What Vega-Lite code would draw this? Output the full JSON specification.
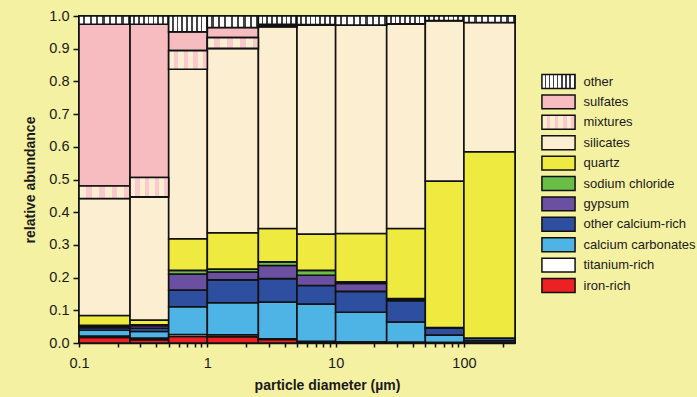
{
  "$schema": "https://vega.github.io/schema/vega-lite/v6.json",
  "autosize": "none",
  "padding": {"left": 79, "top": 16, "right": 182, "bottom": 54},
  "width": 436,
  "height": 327,
  "background": "#f5f1a3",
  "config": {
    "font": "Liberation Sans",
    "view": {"stroke": "#111111", "strokeWidth": 1.6},
    "axis": {
      "domainColor": "#111111",
      "domainWidth": 1.5,
      "tickColor": "#111111",
      "tickWidth": 1.5,
      "labelColor": "#1a1a1a",
      "labelFont": "Liberation Sans",
      "labelFontSize": 14.5,
      "titleColor": "#1a1a1a",
      "titleFont": "Liberation Sans",
      "titleFontSize": 14,
      "titleFontWeight": "bold",
      "grid": false
    }
  },
  "data": {
    "values": [
      {"lo": 0.1, "hi": 0.25, "mineral": "iron-rich", "abundance": 0.017},
      {"lo": 0.1, "hi": 0.25, "mineral": "titanium-rich", "abundance": 0.004},
      {"lo": 0.1, "hi": 0.25, "mineral": "calcium carbonates", "abundance": 0.018},
      {"lo": 0.1, "hi": 0.25, "mineral": "other calcium-rich", "abundance": 0.008},
      {"lo": 0.1, "hi": 0.25, "mineral": "gypsum", "abundance": 0.004},
      {"lo": 0.1, "hi": 0.25, "mineral": "sodium chloride", "abundance": 0.003},
      {"lo": 0.1, "hi": 0.25, "mineral": "quartz", "abundance": 0.03},
      {"lo": 0.1, "hi": 0.25, "mineral": "silicates", "abundance": 0.358},
      {"lo": 0.1, "hi": 0.25, "mineral": "mixtures", "abundance": 0.038},
      {"lo": 0.1, "hi": 0.25, "mineral": "sulfates", "abundance": 0.495},
      {"lo": 0.1, "hi": 0.25, "mineral": "other", "abundance": 0.025},

      {"lo": 0.25, "hi": 0.5, "mineral": "iron-rich", "abundance": 0.01},
      {"lo": 0.25, "hi": 0.5, "mineral": "titanium-rich", "abundance": 0.005},
      {"lo": 0.25, "hi": 0.5, "mineral": "calcium carbonates", "abundance": 0.02},
      {"lo": 0.25, "hi": 0.5, "mineral": "other calcium-rich", "abundance": 0.01},
      {"lo": 0.25, "hi": 0.5, "mineral": "gypsum", "abundance": 0.008},
      {"lo": 0.25, "hi": 0.5, "mineral": "sodium chloride", "abundance": 0.003},
      {"lo": 0.25, "hi": 0.5, "mineral": "quartz", "abundance": 0.014},
      {"lo": 0.25, "hi": 0.5, "mineral": "silicates", "abundance": 0.377},
      {"lo": 0.25, "hi": 0.5, "mineral": "mixtures", "abundance": 0.059},
      {"lo": 0.25, "hi": 0.5, "mineral": "sulfates", "abundance": 0.469},
      {"lo": 0.25, "hi": 0.5, "mineral": "other", "abundance": 0.025},

      {"lo": 0.5, "hi": 1, "mineral": "iron-rich", "abundance": 0.02},
      {"lo": 0.5, "hi": 1, "mineral": "titanium-rich", "abundance": 0.006},
      {"lo": 0.5, "hi": 1, "mineral": "calcium carbonates", "abundance": 0.085},
      {"lo": 0.5, "hi": 1, "mineral": "other calcium-rich", "abundance": 0.051},
      {"lo": 0.5, "hi": 1, "mineral": "gypsum", "abundance": 0.049},
      {"lo": 0.5, "hi": 1, "mineral": "sodium chloride", "abundance": 0.011},
      {"lo": 0.5, "hi": 1, "mineral": "quartz", "abundance": 0.097},
      {"lo": 0.5, "hi": 1, "mineral": "silicates", "abundance": 0.518},
      {"lo": 0.5, "hi": 1, "mineral": "mixtures", "abundance": 0.057},
      {"lo": 0.5, "hi": 1, "mineral": "sulfates", "abundance": 0.058},
      {"lo": 0.5, "hi": 1, "mineral": "other", "abundance": 0.048},

      {"lo": 1, "hi": 2.5, "mineral": "iron-rich", "abundance": 0.019},
      {"lo": 1, "hi": 2.5, "mineral": "titanium-rich", "abundance": 0.006},
      {"lo": 1, "hi": 2.5, "mineral": "calcium carbonates", "abundance": 0.098},
      {"lo": 1, "hi": 2.5, "mineral": "other calcium-rich", "abundance": 0.07},
      {"lo": 1, "hi": 2.5, "mineral": "gypsum", "abundance": 0.024},
      {"lo": 1, "hi": 2.5, "mineral": "sodium chloride", "abundance": 0.009},
      {"lo": 1, "hi": 2.5, "mineral": "quartz", "abundance": 0.111},
      {"lo": 1, "hi": 2.5, "mineral": "silicates", "abundance": 0.564},
      {"lo": 1, "hi": 2.5, "mineral": "mixtures", "abundance": 0.033},
      {"lo": 1, "hi": 2.5, "mineral": "sulfates", "abundance": 0.031},
      {"lo": 1, "hi": 2.5, "mineral": "other", "abundance": 0.035},

      {"lo": 2.5, "hi": 5, "mineral": "iron-rich", "abundance": 0.011},
      {"lo": 2.5, "hi": 5, "mineral": "titanium-rich", "abundance": 0.002},
      {"lo": 2.5, "hi": 5, "mineral": "calcium carbonates", "abundance": 0.112},
      {"lo": 2.5, "hi": 5, "mineral": "other calcium-rich", "abundance": 0.072},
      {"lo": 2.5, "hi": 5, "mineral": "gypsum", "abundance": 0.04},
      {"lo": 2.5, "hi": 5, "mineral": "sodium chloride", "abundance": 0.011},
      {"lo": 2.5, "hi": 5, "mineral": "quartz", "abundance": 0.102},
      {"lo": 2.5, "hi": 5, "mineral": "silicates", "abundance": 0.617},
      {"lo": 2.5, "hi": 5, "mineral": "mixtures", "abundance": 0.003},
      {"lo": 2.5, "hi": 5, "mineral": "sulfates", "abundance": 0.005},
      {"lo": 2.5, "hi": 5, "mineral": "other", "abundance": 0.025},

      {"lo": 5, "hi": 10, "mineral": "iron-rich", "abundance": 0.003},
      {"lo": 5, "hi": 10, "mineral": "titanium-rich", "abundance": 0.002},
      {"lo": 5, "hi": 10, "mineral": "calcium carbonates", "abundance": 0.114},
      {"lo": 5, "hi": 10, "mineral": "other calcium-rich", "abundance": 0.057},
      {"lo": 5, "hi": 10, "mineral": "gypsum", "abundance": 0.031},
      {"lo": 5, "hi": 10, "mineral": "sodium chloride", "abundance": 0.015},
      {"lo": 5, "hi": 10, "mineral": "quartz", "abundance": 0.111},
      {"lo": 5, "hi": 10, "mineral": "silicates", "abundance": 0.639},
      {"lo": 5, "hi": 10, "mineral": "sulfates", "abundance": 0.002},
      {"lo": 5, "hi": 10, "mineral": "other", "abundance": 0.026},

      {"lo": 10, "hi": 25, "mineral": "iron-rich", "abundance": 0.002},
      {"lo": 10, "hi": 25, "mineral": "titanium-rich", "abundance": 0.002},
      {"lo": 10, "hi": 25, "mineral": "calcium carbonates", "abundance": 0.09},
      {"lo": 10, "hi": 25, "mineral": "other calcium-rich", "abundance": 0.064},
      {"lo": 10, "hi": 25, "mineral": "gypsum", "abundance": 0.024},
      {"lo": 10, "hi": 25, "mineral": "sodium chloride", "abundance": 0.005},
      {"lo": 10, "hi": 25, "mineral": "quartz", "abundance": 0.148},
      {"lo": 10, "hi": 25, "mineral": "silicates", "abundance": 0.637},
      {"lo": 10, "hi": 25, "mineral": "other", "abundance": 0.028},

      {"lo": 25, "hi": 50, "mineral": "iron-rich", "abundance": 0.001},
      {"lo": 25, "hi": 50, "mineral": "titanium-rich", "abundance": 0.002},
      {"lo": 25, "hi": 50, "mineral": "calcium carbonates", "abundance": 0.061},
      {"lo": 25, "hi": 50, "mineral": "other calcium-rich", "abundance": 0.065},
      {"lo": 25, "hi": 50, "mineral": "gypsum", "abundance": 0.003},
      {"lo": 25, "hi": 50, "mineral": "sodium chloride", "abundance": 0.004},
      {"lo": 25, "hi": 50, "mineral": "quartz", "abundance": 0.214},
      {"lo": 25, "hi": 50, "mineral": "silicates", "abundance": 0.626},
      {"lo": 25, "hi": 50, "mineral": "other", "abundance": 0.024},

      {"lo": 50, "hi": 100, "mineral": "iron-rich", "abundance": 0.001},
      {"lo": 50, "hi": 100, "mineral": "titanium-rich", "abundance": 0.001},
      {"lo": 50, "hi": 100, "mineral": "calcium carbonates", "abundance": 0.022},
      {"lo": 50, "hi": 100, "mineral": "other calcium-rich", "abundance": 0.021},
      {"lo": 50, "hi": 100, "mineral": "gypsum", "abundance": 0.002},
      {"lo": 50, "hi": 100, "mineral": "quartz", "abundance": 0.448},
      {"lo": 50, "hi": 100, "mineral": "silicates", "abundance": 0.491},
      {"lo": 50, "hi": 100, "mineral": "other", "abundance": 0.014},

      {"lo": 100, "hi": 250, "mineral": "iron-rich", "abundance": 0.001},
      {"lo": 100, "hi": 250, "mineral": "calcium carbonates", "abundance": 0.006},
      {"lo": 100, "hi": 250, "mineral": "other calcium-rich", "abundance": 0.008},
      {"lo": 100, "hi": 250, "mineral": "quartz", "abundance": 0.57},
      {"lo": 100, "hi": 250, "mineral": "silicates", "abundance": 0.395},
      {"lo": 100, "hi": 250, "mineral": "other", "abundance": 0.02}
    ]
  },
  "transform": [
    {
      "calculate": "indexof(['iron-rich', 'titanium-rich', 'calcium carbonates', 'other calcium-rich', 'gypsum', 'sodium chloride', 'quartz', 'silicates', 'mixtures', 'sulfates', 'other'], datum.mineral)",
      "as": "stack_rank"
    },
    {
      "stack": "abundance",
      "groupby": ["lo"],
      "sort": [{"field": "stack_rank", "order": "ascending"}],
      "offset": "zero",
      "as": ["y0", "y1"]
    }
  ],
  "encoding": {
    "x": {
      "field": "lo",
      "type": "quantitative",
      "scale": {"type": "log", "domain": [0.1, 250], "nice": false},
      "axis": {
        "title": "particle diameter (µm)",
        "values": [0.1, 0.2, 0.3, 0.4, 0.5, 0.6, 0.7, 0.8, 0.9, 1, 2, 3, 4, 5, 6, 7, 8, 9, 10, 20, 30, 40, 50, 60, 70, 80, 90, 100, 200],
        "format": "~g",
        "labelExpr": "datum.value == 0.1 || datum.value == 1 || datum.value == 10 || datum.value == 100 ? datum.label : ''",
        "labelOverlap": false,
        "labelFlush": false,
        "tickSize": 4,
        "labelPadding": 9,
        "titleX": 248,
        "titleY": 35,
        "titleAnchor": "middle"
      }
    },
    "x2": {"field": "hi"},
    "y": {
      "field": "y0",
      "type": "quantitative",
      "scale": {"domain": [0, 1], "nice": false},
      "axis": {
        "title": "relative abundance",
        "values": [0, 0.1, 0.2, 0.3, 0.4, 0.5, 0.6, 0.7, 0.8, 0.9, 1],
        "format": ".1f",
        "tickSize": 6,
        "labelPadding": 4,
        "titlePadding": 11
      }
    },
    "y2": {"field": "y1"}
  },
  "layer": [
    {
      "mark": {
        "type": "bar",
        "filled": false,
        "strokeWidth": 1.6,
        "fill": {
          "expr": "!datum.value ? null : datum.value === 'other' ? {gradient: 'linear', x1: 0, y1: 0, x2: 1, y2: 0, stops: [{offset: 0, color: '#ffffff'}, {offset: 0.08125, color: '#ffffff'}, {offset: 0.08125, color: '#444444'}, {offset: 0.125, color: '#444444'}, {offset: 0.125, color: '#ffffff'}, {offset: 0.20625, color: '#ffffff'}, {offset: 0.20625, color: '#444444'}, {offset: 0.25, color: '#444444'}, {offset: 0.25, color: '#ffffff'}, {offset: 0.33125, color: '#ffffff'}, {offset: 0.33125, color: '#444444'}, {offset: 0.375, color: '#444444'}, {offset: 0.375, color: '#ffffff'}, {offset: 0.45625, color: '#ffffff'}, {offset: 0.45625, color: '#444444'}, {offset: 0.5, color: '#444444'}, {offset: 0.5, color: '#ffffff'}, {offset: 0.58125, color: '#ffffff'}, {offset: 0.58125, color: '#444444'}, {offset: 0.625, color: '#444444'}, {offset: 0.625, color: '#ffffff'}, {offset: 0.70625, color: '#ffffff'}, {offset: 0.70625, color: '#444444'}, {offset: 0.75, color: '#444444'}, {offset: 0.75, color: '#ffffff'}, {offset: 0.83125, color: '#ffffff'}, {offset: 0.83125, color: '#444444'}, {offset: 0.875, color: '#444444'}, {offset: 0.875, color: '#ffffff'}, {offset: 0.95625, color: '#ffffff'}, {offset: 0.95625, color: '#444444'}, {offset: 1, color: '#444444'}]} : datum.value === 'mixtures' ? {gradient: 'linear', x1: 0, y1: 0, x2: 1, y2: 0, stops: [{offset: 0, color: '#fcefd1'}, {offset: 0.14, color: '#fcefd1'}, {offset: 0.14, color: '#fbc8cf'}, {offset: 0.25, color: '#fbc8cf'}, {offset: 0.25, color: '#fcefd1'}, {offset: 0.39, color: '#fcefd1'}, {offset: 0.39, color: '#fbc8cf'}, {offset: 0.5, color: '#fbc8cf'}, {offset: 0.5, color: '#fcefd1'}, {offset: 0.64, color: '#fcefd1'}, {offset: 0.64, color: '#fbc8cf'}, {offset: 0.75, color: '#fbc8cf'}, {offset: 0.75, color: '#fcefd1'}, {offset: 0.89, color: '#fcefd1'}, {offset: 0.89, color: '#fbc8cf'}, {offset: 1, color: '#fbc8cf'}]} : scale('fill', datum.value)"
        }
      },
      "encoding": {
        "color": {
          "field": "mineral",
          "type": "nominal",
          "scale": {
            "domain": ["other", "sulfates", "mixtures", "silicates", "quartz", "sodium chloride", "gypsum", "other calcium-rich", "calcium carbonates", "titanium-rich", "iron-rich"],
            "range": ["#111111", "#111111", "#111111", "#111111", "#111111", "#111111", "#111111", "#111111", "#111111", "#111111", "#111111"]
          },
          "legend": {
            "title": null,
            "orient": "none",
            "legendX": 470,
            "legendY": 56,
            "padding": 0,
            "symbolType": "M-1.95,-0.82H1.95V0.82H-1.95Z",
            "symbolSize": 289,
            "symbolStrokeWidth": 1.5,
            "symbolOpacity": 1,
            "labelFont": "Liberation Sans",
            "labelFontSize": 13,
            "labelColor": "#1a1a1a",
            "labelOffset": 15.5,
            "rowPadding": -0.6
          }
        }
      }
    },
    {
      "mark": {"type": "bar", "stroke": "#111111", "strokeWidth": 1.6, "opacity": 1},
      "encoding": {
        "fill": {
          "field": "mineral",
          "type": "nominal",
          "scale": {
            "domain": ["iron-rich", "titanium-rich", "calcium carbonates", "other calcium-rich", "gypsum", "sodium chloride", "quartz", "silicates", "mixtures", "sulfates", "other"],
            "range": ["#ed2024", "#ffffff", "#4eb4e6", "#2e4f9f", "#6b4fa1", "#6abd45", "#eeea3f", "#fcefd1", "#fbd3d3", "#f7bcbf", "#ffffff"]
          },
          "legend": null
        }
      }
    },
    {
      "transform": [{"filter": "datum.mineral === 'other'"}],
      "mark": {
        "type": "bar",
        "stroke": "#111111",
        "strokeWidth": 1.6,
        "fill": {
          "gradient": "linear", "x1": 0, "x2": 1, "y1": 0, "y2": 0,
          "stops": [
            {"offset": 0, "color": "#ffffff"}, {"offset": 0.08125, "color": "#ffffff"}, {"offset": 0.08125, "color": "#444444"}, {"offset": 0.125, "color": "#444444"},
            {"offset": 0.125, "color": "#ffffff"}, {"offset": 0.20625, "color": "#ffffff"}, {"offset": 0.20625, "color": "#444444"}, {"offset": 0.25, "color": "#444444"},
            {"offset": 0.25, "color": "#ffffff"}, {"offset": 0.33125, "color": "#ffffff"}, {"offset": 0.33125, "color": "#444444"}, {"offset": 0.375, "color": "#444444"},
            {"offset": 0.375, "color": "#ffffff"}, {"offset": 0.45625, "color": "#ffffff"}, {"offset": 0.45625, "color": "#444444"}, {"offset": 0.5, "color": "#444444"},
            {"offset": 0.5, "color": "#ffffff"}, {"offset": 0.58125, "color": "#ffffff"}, {"offset": 0.58125, "color": "#444444"}, {"offset": 0.625, "color": "#444444"},
            {"offset": 0.625, "color": "#ffffff"}, {"offset": 0.70625, "color": "#ffffff"}, {"offset": 0.70625, "color": "#444444"}, {"offset": 0.75, "color": "#444444"},
            {"offset": 0.75, "color": "#ffffff"}, {"offset": 0.83125, "color": "#ffffff"}, {"offset": 0.83125, "color": "#444444"}, {"offset": 0.875, "color": "#444444"},
            {"offset": 0.875, "color": "#ffffff"}, {"offset": 0.95625, "color": "#ffffff"}, {"offset": 0.95625, "color": "#444444"}, {"offset": 1, "color": "#444444"}
          ]
        }
      }
    },
    {
      "transform": [{"filter": "datum.mineral === 'mixtures'"}],
      "mark": {
        "type": "bar",
        "stroke": "#111111",
        "strokeWidth": 1.6,
        "fill": {
          "gradient": "linear", "x1": 0, "x2": 1, "y1": 0, "y2": 0,
          "stops": [
            {"offset": 0, "color": "#fcefd1"}, {"offset": 0.14, "color": "#fcefd1"}, {"offset": 0.14, "color": "#fbc8cf"}, {"offset": 0.25, "color": "#fbc8cf"},
            {"offset": 0.25, "color": "#fcefd1"}, {"offset": 0.39, "color": "#fcefd1"}, {"offset": 0.39, "color": "#fbc8cf"}, {"offset": 0.5, "color": "#fbc8cf"},
            {"offset": 0.5, "color": "#fcefd1"}, {"offset": 0.64, "color": "#fcefd1"}, {"offset": 0.64, "color": "#fbc8cf"}, {"offset": 0.75, "color": "#fbc8cf"},
            {"offset": 0.75, "color": "#fcefd1"}, {"offset": 0.89, "color": "#fcefd1"}, {"offset": 0.89, "color": "#fbc8cf"}, {"offset": 1, "color": "#fbc8cf"}
          ]
        }
      }
    }
  ]
}
